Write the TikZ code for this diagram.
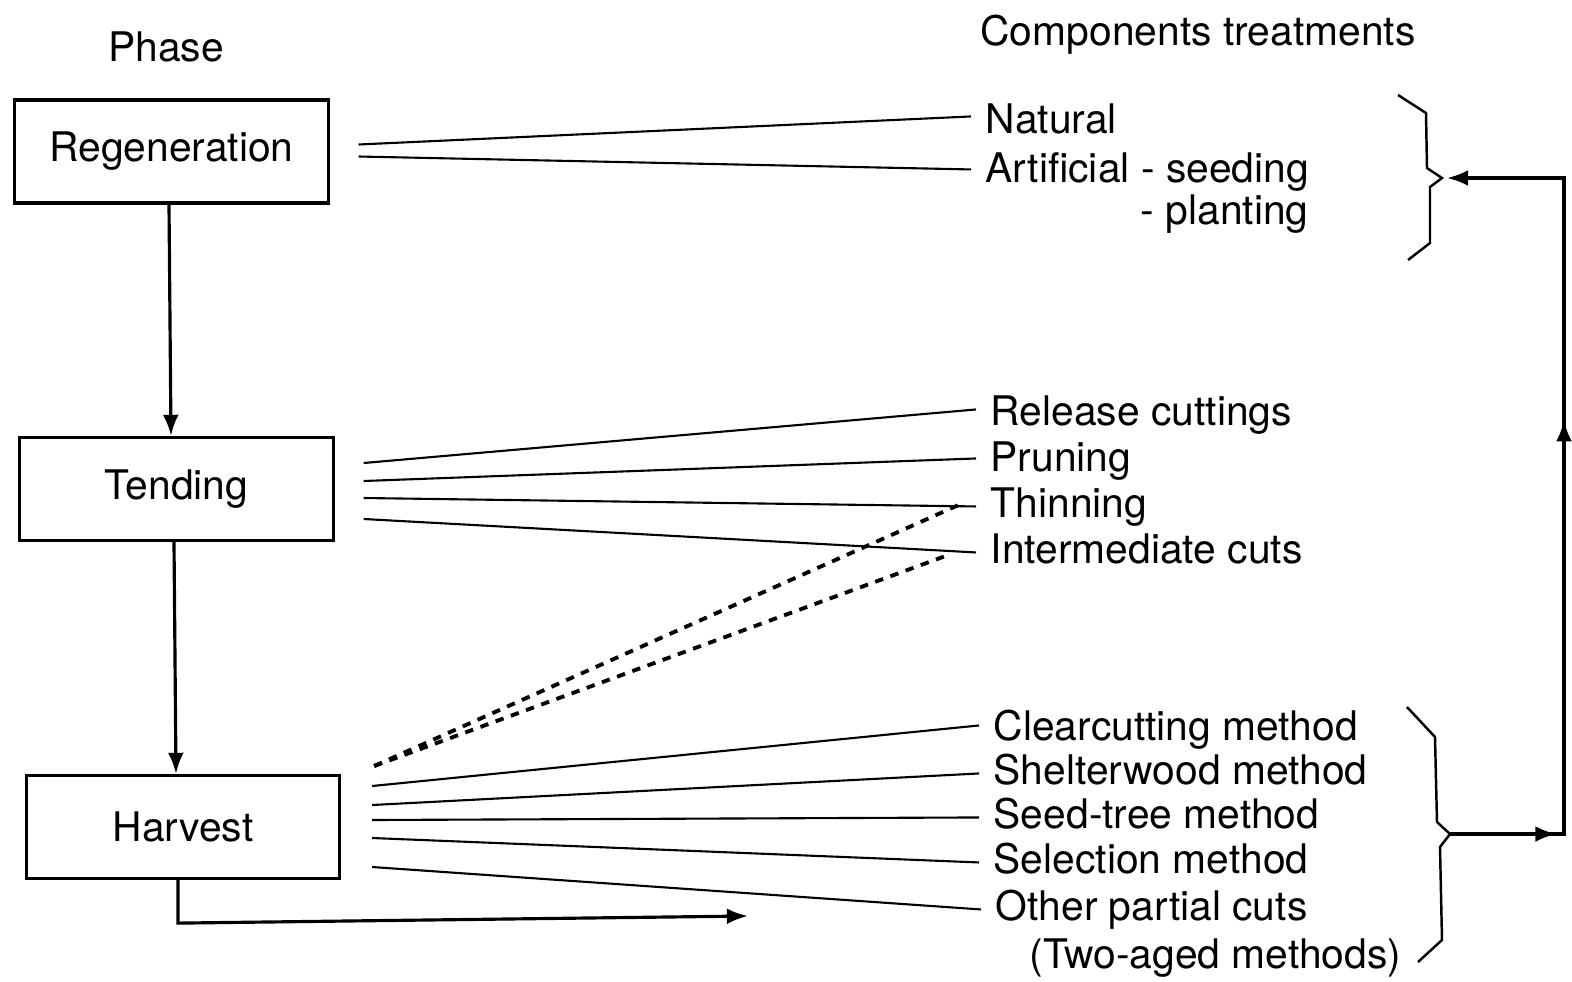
\documentclass[tikz,border=0pt]{standalone}
\usepackage{fontspec}
\setmainfont{TeX Gyre Heros}
\usetikzlibrary{arrows.meta, decorations.markings}
\tikzset{
    phasebox/.style={draw, line width=0.9pt, minimum width=3.13cm, minimum height=1.03cm,
        font=\fontsize{11.6}{14}\selectfont},
    treat/.style={anchor=base west, inner xsep=4pt, inner ysep=0pt, text height=8.5pt,
        text depth=2.5pt, font=\fontsize{11.6}{14}\selectfont},
    head/.style={anchor=base, font=\fontsize{11.6}{14}\selectfont},
    link/.style={line width=0.6pt},
    cutlink/.style={line width=1.1pt, dash pattern=on 2.4pt off 2.2pt},
    flow/.style={line width=0.9pt, -{Latex[length=6pt,width=4.5pt]}},
    bracket/.style={line width=0.7pt, line join=miter}
}
\tikzset{
    loopback/.style={line width=0.9pt, -{Latex[length=6pt,width=4.5pt]},
        decoration={
            markings,
            mark=at position 0.12 with {\arrow{Latex[length=6pt,width=4.5pt]}},
            mark=at position 0.595 with {\arrow{Latex[length=6pt,width=4.5pt]}}
        },
        postaction={decorate}
    }
}
\begin{document}
\begin{tikzpicture}[x=0.01cm, y=-0.01cm]
    \useasboundingbox (0,0) rectangle (1572,981);
    % headings
    \node[head] (phase) at (166,61) {Phase};
    \node[head] (comp) at (1198,45) {Components treatments};
    % phases
    \node[phasebox] (reg)  at (171.5,151.5) {Regeneration};
    \node[phasebox] (tend) at (176.5,489) {Tending};
    \node[phasebox] (harv) at (183,827) {Harvest};
    \draw[flow] ([xshift=-0.025cm]reg.south) -- ([xshift=-0.055cm]tend.north);
    \draw[flow] ([xshift=-0.025cm]tend.south) -- ([xshift=-0.07cm]harv.north);
    \coordinate (out) at (748,916);
    \draw[flow] ([xshift=-0.05cm]harv.south) -- ++(0,43) -- (out);
    % treatments
    \node[treat] (nat)   at (971,133) {Natural};
    \node[treat] (art)   at (971,182) {Artificial - seeding};
    \node[treat] (plant) at (1126,224) {- planting};
    \node[treat] (rel)   at (976,425) {Release cuttings};
    \node[treat] (prun)  at (976,471) {Pruning};
    \node[treat] (thin)  at (976,517) {Thinning};
    \node[treat] (inter) at (976,563) {Intermediate cuts};
    \node[treat] (clear) at (979,740) {Clearcutting method};
    \node[treat] (shelt) at (979,784) {Shelterwood method};
    \node[treat] (seed)  at (979,828) {Seed-tree method};
    \node[treat] (sel)   at (979,873) {Selection method};
    \node[treat] (other) at (981,920) {Other partial cuts};
    \node[treat] (two)   at (1015,968) {(Two-aged methods)};
    % links
    \draw[link] ([shift={(29,-7)}]reg.east) -- ([shift={(0,-6)}]nat.west);
    \draw[link] ([shift={(29,5)}]reg.east) -- ([shift={(0,-2)}]art.west);
    \draw[link] ([shift={(29,-26)}]tend.east) -- ([shift={(0,-5)}]rel.west);
    \draw[link] ([shift={(29,-8)}]tend.east) -- ([shift={(0,-2)}]prun.west);
    \draw[link] ([shift={(29,9)}]tend.east) -- (thin.west);
    \draw[link] ([shift={(29,30)}]tend.east) -- (inter.west);
    \draw[link] ([shift={(31,-41)}]harv.east) -- ([shift={(0,-4)}]clear.west);
    \draw[link] ([shift={(31,-22)}]harv.east) -- (shelt.west);
    \draw[link] ([shift={(31,-7)}]harv.east) -- (seed.west);
    \draw[link] ([shift={(31,11)}]harv.east) -- (sel.west);
    \draw[link] ([shift={(31,40)}]harv.east) -- (other.west);
    \draw[cutlink] ([shift={(33,-61)}]harv.east) -- ([shift={(-14,-3)}]thin.west);
    \draw[cutlink] ([shift={(33,-61)}]harv.east) -- ([shift={(-29,3)}]inter.west);
    % brackets
    \coordinate (tipA) at (1442,178);
    \coordinate (tipB) at (1450,834);
    \draw[bracket] (1398,95) -- (1426,113) -- (1427,168) -- (tipA)
        -- (1430,187) -- (1430,243) -- (1408,260);
    \draw[bracket] (1407,707) -- (1435,737) -- (1437,822) -- (tipB)
        -- (1440,847) -- (1442,940) -- (1418,962);
    \draw[loopback] (tipB) -- (1564,834) -- (1564,178) -- ([xshift=0.05cm]tipA);
\end{tikzpicture}
\end{document}
